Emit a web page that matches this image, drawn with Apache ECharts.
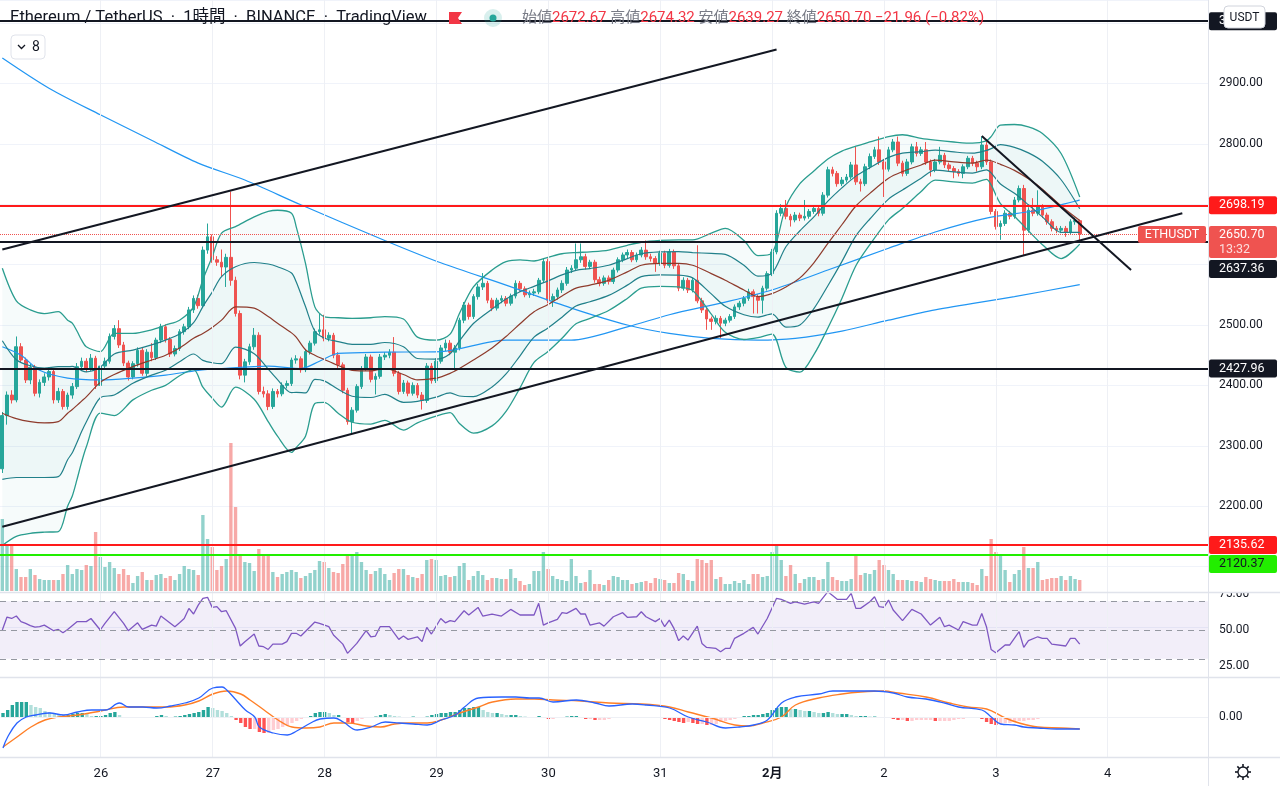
<!DOCTYPE html>
<html>
<head>
<meta charset="utf-8">
<script src="https://cdn.jsdelivr.net/npm/echarts/dist/echarts.min.js"></script>
<style>
  html, body { margin: 0; padding: 0; background: #fff; }
  #chart { width: 1280px; height: 786px; }
</style>
</head>
<body>
<div id="chart"></div>
<script>
// ETH/USDT 1h candles, Jan 25 03:00 .. Feb 3 18:00  [open, close, low, high]
const candles = [
  [2262,2350,2255,2356],[2350,2384,2335,2390],[2384,2376,2370,2392],[2376,2464,2372,2481],[2464,2442,2438,2470],
  [2442,2409,2404,2446],[2409,2430,2402,2436],[2430,2387,2382,2434],[2387,2405,2380,2410],[2405,2414,2399,2420],
  [2414,2423,2408,2430],[2423,2376,2370,2427],[2376,2390,2371,2396],[2390,2365,2360,2394],[2365,2384,2360,2388],
  [2384,2398,2378,2404],[2398,2431,2394,2437],[2431,2440,2425,2446],[2440,2428,2422,2445],[2428,2445,2424,2452],
  [2445,2400,2394,2449],[2400,2432,2396,2437],[2432,2440,2426,2446],[2440,2481,2436,2486],[2481,2494,2476,2500],
  [2494,2467,2462,2508],[2467,2437,2432,2472],[2437,2414,2408,2441],[2414,2436,2410,2440],[2436,2458,2431,2463],
  [2458,2420,2416,2462],[2420,2455,2415,2460],[2455,2446,2440,2470],[2446,2475,2442,2479],[2475,2497,2470,2502],
  [2497,2476,2471,2501],[2476,2452,2447,2480],[2452,2461,2448,2466],[2461,2489,2457,2493],[2489,2497,2484,2502],
  [2497,2525,2493,2530],[2525,2544,2520,2549],[2544,2532,2527,2550],[2532,2624,2528,2630],[2624,2646,2618,2668],
  [2646,2608,2603,2650],[2608,2604,2598,2614],[2604,2596,2580,2625],[2596,2612,2563,2618],[2612,2574,2565,2721],
  [2574,2519,2514,2580],[2519,2417,2410,2524],[2417,2439,2405,2444],[2439,2464,2434,2469],[2464,2483,2459,2495],
  [2483,2390,2385,2488],[2390,2386,2380,2398],[2386,2365,2359,2392],[2365,2390,2361,2395],[2390,2386,2380,2394],
  [2386,2400,2382,2405],[2400,2403,2395,2408],[2403,2442,2399,2446],[2442,2444,2436,2450],[2444,2426,2421,2448],
  [2426,2456,2422,2460],[2456,2470,2451,2474],[2470,2489,2466,2494],[2489,2492,2484,2519],[2492,2478,2473,2517],
  [2478,2483,2473,2488],[2483,2450,2445,2487],[2450,2434,2429,2455],[2434,2392,2387,2438],[2392,2340,2335,2396],
  [2340,2359,2320,2364],[2359,2398,2355,2402],[2398,2428,2394,2432],[2428,2447,2424,2452],[2447,2410,2405,2451],
  [2410,2415,2385,2420],[2415,2447,2411,2452],[2447,2450,2442,2455],[2450,2455,2445,2460],[2455,2420,2415,2480],
  [2420,2390,2385,2424],[2390,2404,2386,2409],[2404,2387,2382,2408],[2387,2400,2383,2405],[2400,2384,2379,2404],
  [2384,2375,2360,2389],[2375,2432,2371,2437],[2432,2408,2403,2437],[2408,2440,2404,2445],[2440,2462,2436,2467],
  [2462,2470,2457,2476],[2470,2455,2450,2475],[2455,2462,2425,2467],[2462,2508,2458,2512],[2508,2533,2503,2538],
  [2533,2514,2509,2537],[2514,2547,2510,2551],[2547,2563,2542,2568],[2563,2569,2558,2586],[2569,2541,2536,2573],
  [2541,2528,2523,2545],[2528,2541,2524,2545],[2541,2544,2536,2549],[2544,2536,2531,2548],[2536,2548,2532,2552],
  [2548,2569,2544,2574],[2569,2560,2555,2573],[2560,2550,2546,2564],[2550,2553,2545,2557],[2553,2555,2548,2560],
  [2555,2574,2551,2578],[2574,2605,2570,2610],[2605,2541,2536,2610],[2541,2547,2530,2552],[2547,2558,2542,2562],
  [2558,2569,2553,2574],[2569,2591,2565,2596],[2591,2594,2586,2599],[2594,2608,2590,2635],[2608,2613,2603,2635],
  [2613,2597,2592,2618],[2597,2604,2593,2608],[2604,2575,2570,2608],[2575,2569,2564,2580],[2569,2578,2565,2582],
  [2578,2572,2567,2582],[2572,2591,2568,2595],[2591,2608,2587,2612],[2608,2616,2604,2620],[2616,2620,2611,2625],
  [2620,2608,2604,2624],[2608,2616,2604,2620],[2616,2624,2612,2629],[2624,2613,2608,2640],[2613,2610,2605,2618],
  [2610,2602,2588,2614],[2602,2619,2598,2623],[2619,2599,2594,2623],[2599,2621,2595,2626],[2621,2598,2593,2625],
  [2598,2561,2556,2602],[2561,2574,2557,2579],[2574,2558,2553,2578],[2558,2574,2554,2578],[2574,2540,2536,2632],
  [2540,2525,2520,2545],[2525,2510,2492,2529],[2510,2506,2492,2514],[2506,2511,2501,2516],[2511,2503,2478,2515],
  [2503,2508,2498,2512],[2508,2514,2504,2518],[2514,2530,2510,2534],[2530,2536,2525,2540],[2536,2544,2531,2548],
  [2544,2555,2540,2560],[2555,2547,2519,2559],[2547,2541,2519,2551],[2541,2561,2519,2565],[2561,2585,2557,2589],
  [2585,2621,2581,2626],[2621,2685,2617,2690],[2685,2693,2680,2700],[2693,2680,2675,2707],[2680,2674,2663,2684],
  [2674,2682,2670,2687],[2682,2677,2672,2686],[2677,2680,2673,2707],[2680,2688,2676,2692],[2688,2693,2684,2698],
  [2693,2685,2680,2697],[2685,2715,2681,2720],[2715,2757,2711,2762],[2757,2751,2746,2762],[2751,2734,2729,2755],
  [2734,2740,2730,2745],[2740,2745,2736,2750],[2745,2765,2741,2770],[2765,2737,2732,2795],[2737,2734,2721,2742],
  [2734,2762,2730,2767],[2762,2779,2758,2784],[2779,2790,2775,2795],[2790,2770,2765,2812],[2770,2758,2712,2775],
  [2758,2790,2754,2795],[2790,2803,2786,2808],[2803,2768,2763,2812],[2768,2751,2746,2772],[2751,2770,2747,2775],
  [2770,2795,2766,2800],[2795,2784,2779,2803],[2784,2790,2780,2795],[2790,2770,2765,2803],[2770,2757,2746,2774],
  [2757,2770,2753,2775],[2770,2781,2766,2795],[2781,2765,2760,2785],[2765,2759,2754,2769],[2759,2754,2743,2763],
  [2754,2751,2746,2758],[2751,2762,2743,2766],[2762,2776,2758,2780],[2776,2768,2763,2780],[2768,2762,2754,2772],
  [2762,2798,2758,2812],[2798,2770,2765,2803],[2770,2688,2683,2774],[2688,2663,2658,2692],[2663,2668,2641,2673],
  [2668,2685,2664,2690],[2685,2680,2675,2689],[2680,2707,2676,2712],[2707,2726,2703,2731],[2726,2657,2616,2732],
  [2657,2690,2653,2695],[2690,2685,2680,2710],[2685,2696,2681,2723],[2696,2682,2677,2700],[2682,2671,2666,2686],
  [2671,2660,2655,2675],[2660,2657,2652,2664],[2657,2660,2652,2664],[2660,2654,2646,2664],[2654,2671,2650,2675],
  [2671,2673,2666,2678],[2672.67,2650.70,2639.27,2674.32]
];

const volumes = [
  72,47,47,22,14,14,22,16,12,11, 11,11,11,17,26,17,22,21,26,25,
  59,34,24,29,23,17,22,16,8,15, 19,11,11,16,17,13,15,11,17,25,
  22,21,16,76,52,44,21,25,32,148, 84,37,29,28,20,42,35,35,19,14,
  17,19,21,19,13,15,18,21,30,29, 23,19,18,27,37,36,39,29,21,17,
  20,23,17,11,18,22,22,16,14,13, 17,31,32,31,15,16,14,15,25,28,
  11,15,20,16,11,13,13,12,12,22, 13,10,6,7,20,20,39,22,15,12,
  11,10,32,15,8,9,21,7,7,6, 11,15,14,11,11,7,8,9,10,8,
  13,12,11,8,8,18,17,11,10,32, 31,28,31,12,14,7,7,10,8,11,
  7,17,17,14,15,39,47,31,15,26, 17,8,12,14,14,11,12,29,14,11,
  10,10,12,35,16,18,17,21,31,26, 21,17,11,11,11,10,10,9,14,12,
  11,10,10,10,12,9,9,9,8,6, 22,15,52,39,37,21,9,17,21,44,
  23,23,29,11,12,13,13,15,11,15, 12,11
];

// Bollinger bands (20, 2) read at these candle indices
const bandIdx = [0,3,6,9,12,14,15,16,17,18,21,24,28,32,35,38,41,43,45,47,50,54,57,59,62,63,65,67,69,72,75,79,82,86,89,93,96,98,101,105,108,111,114,117,120,123,126,130,134,137,141,145,148,152,155,159,162,165,168,171,174,177,180,183,186,190,193,197,200,204,208,211,212,214,217,220,223,227,231];
const bbMid = [2354,2345,2340,2338,2340,2354,2360,2367,2374,2381,2405,2418,2431,2442,2450,2462,2478,2486,2496,2508,2530,2528,2514,2503,2487,2480,2459,2450,2443,2433,2425,2424,2428,2418,2409,2412,2420,2428,2442,2462,2481,2502,2522,2534,2548,2561,2566,2574,2588,2599,2602,2602,2599,2585,2574,2558,2547,2552,2563,2578,2603,2635,2666,2697,2718,2743,2754,2765,2773,2770,2768,2773,2772,2766,2756,2742,2725,2697,2673];
const bbUpper = [2594,2540,2525,2519,2522,2508,2503,2490,2475,2464,2456,2486,2486,2492,2500,2508,2530,2575,2613,2652,2663,2679,2688,2690,2685,2663,2602,2530,2514,2512,2511,2512,2514,2510,2480,2475,2485,2519,2563,2591,2605,2608,2606,2612,2618,2620,2621,2624,2632,2637,2640,2641,2641,2652,2660,2640,2615,2619,2696,2734,2755,2775,2788,2796,2803,2812,2815,2809,2806,2803,2801,2805,2812,2831,2832,2828,2817,2784,2712];
const bbLower = [2135,2150,2155,2157,2158,2200,2217,2244,2273,2298,2354,2350,2376,2392,2400,2416,2426,2397,2379,2364,2397,2377,2340,2316,2289,2297,2316,2370,2372,2354,2339,2336,2342,2326,2338,2349,2355,2337,2321,2333,2357,2396,2438,2456,2478,2502,2511,2524,2544,2561,2564,2563,2557,2518,2488,2476,2479,2485,2430,2422,2451,2495,2544,2598,2633,2674,2693,2721,2740,2737,2735,2741,2732,2701,2680,2656,2633,2610,2634];

// moving averages [candle index, value]
const maSlow = [[0,2942],[10,2892],[21,2848],[32,2806],[42,2768],[52,2740],[64,2699],[82,2640],[94,2603],[108,2566],[122,2528],[134,2500],[143,2486],[152,2478],[162,2475],[170,2478],[180,2490],[190,2508],[200,2525],[217,2547],[231,2567]];
const maFast = [[0,2464],[4,2450],[8,2425],[14,2412],[21,2409],[28,2412],[35,2417],[42,2425],[47,2428],[57,2432],[64,2428],[68,2440],[72,2453],[82,2455],[94,2456],[108,2475],[122,2475],[134,2497],[143,2517],[155,2538],[165,2558],[177,2591],[190,2627],[200,2654],[211,2677],[222,2690],[231,2707]];

// RSI(14)
const rsi = [[0,50],[1,59],[2,58],[3,59.7],[4,55.8],[5,54.6],[6,53],[7,52],[8,52.3],[9,53.4],[11,49.5],[12,50.4],[13,48.1],[14,50.4],[16,55.8],[18,55.8],[19,58],[21,50],[22,54.6],[24,62.7],[26,54.6],[27,49.5],[29,55],[30,50.4],[32,53.4],[33,52.7],[34,59.7],[37,52.3],[38,55],[39,58],[40,65],[41,61.1],[42,67.3],[43,72],[44,72.7],[45,65.7],[46,66.2],[47,62.7],[48,63.4],[50,51.1],[51,38.9],[52,41.9],[54,47.2],[55,38.9],[56,38.4],[57,36.5],[58,40.2],[60,40.2],[61,41.9],[62,47.7],[63,47.7],[64,45.8],[66,52.3],[67,55.5],[68,54.6],[70,52.3],[71,46.5],[73,40.2],[74,33.8],[76,40.7],[78,49.5],[79,45.3],[80,45.8],[81,52.3],[83,52.3],[85,43.5],[86,45.8],[87,43.5],[89,45.3],[90,41.9],[91,51.8],[92,47.2],[94,58],[95,55],[96,56.5],[97,55.8],[99,63.4],[100,60.4],[102,65.7],[103,59.7],[105,61.1],[107,59.7],[109,64.3],[111,60.4],[114,60.4],[115,68.5],[116,53.4],[117,55],[119,57.4],[120,62],[121,61.5],[123,65],[124,61.1],[125,61.1],[126,53.4],[128,55],[129,52.7],[131,59.2],[133,62],[134,58.8],[136,59.2],[137,62.7],[138,59.2],[140,55.8],[141,58],[142,52.3],[143,56.9],[144,51.1],[145,42.6],[146,45.8],[147,43],[149,52.7],[150,40.7],[151,37.9],[153,37.2],[154,34.9],[155,37.2],[156,37.2],[157,44.2],[159,47.7],[161,51.8],[162,47.2],[164,58],[166,72],[167,71.3],[169,68.5],[170,69.6],[172,68],[174,69.6],[175,68.5],[177,76.6],[179,71.3],[181,71.3],[182,75.4],[183,65],[184,65],[186,69.6],[187,73.1],[188,66.2],[189,65.7],[190,70.8],[191,63.9],[193,56.5],[195,64.3],[197,61.1],[199,53.4],[201,58.8],[202,52.3],[203,53.4],[205,50],[206,55.8],[208,53.4],[209,53.4],[210,61.5],[211,52.3],[212,36.5],[213,34.2],[215,39.6],[216,39.6],[218,48.8],[219,37.9],[220,42.6],[222,45.3],[223,44.2],[224,44.2],[225,40.2],[228,38.9],[229,44.2],[230,44.2],[231,40.2]];

// MACD(12,26,9)
const macdLine = [[0,-31],[1,-20],[3,-6],[5,0],[7,2],[10,4],[13,2],[16,5],[19,7],[22,7],[25,14],[27,10],[30,10],[33,9],[36,11],[39,14],[42,19],[45,29],[47,30],[48,27],[50,17],[52,7],[54,0],[55,-10],[58,-16],[61,-18],[63,-14],[66,-6],[68,-2],[71,-1],[73,-5],[76,-13],[79,-10],[82,-5],[85,-6],[88,-7],[91,-8],[94,-3],[97,2],[99,10],[102,19],[107,20],[110,20],[113,19],[115,19],[118,15],[123,17],[127,14],[130,11],[135,13],[138,12],[143,9],[147,0],[151,-5],[155,-11],[158,-10],[161,-8],[164,-3],[167,14],[170,20],[175,23],[178,26],[183,26],[187,26],[191,24],[194,20],[198,18],[202,14],[205,10],[210,7],[212,0],[214,-7],[217,-8],[219,-10],[222,-11],[226,-12],[228,-12],[231,-12]];
const signalLine = [[0,-30],[3,-20],[6,-10],[9,-3],[12,0],[16,2],[21,6],[26,10],[30,10],[35,10],[39,12],[42,16],[45,23],[48,26],[51,23],[53,17],[56,7],[59,-3],[62,-10],[65,-11],[68,-10],[71,-6],[74,-6],[78,-9],[81,-10],[84,-7],[87,-6],[91,-6],[94,-3],[98,4],[102,10],[105,15],[110,18],[114,18],[118,17],[124,16],[130,14],[137,13],[143,10],[147,5],[152,-1],[157,-8],[160,-9],[163,-6],[167,0],[170,12],[175,19],[180,23],[184,25],[189,26],[192,24],[198,20],[203,14],[207,10],[211,8],[215,-1],[218,-6],[222,-10],[227,-11],[231,-12]];
const macdHist = [
  4,7,12,15,15,15,12,10,9,6, 5,4,3,2,2,3,4,4,3,1,
  1,1,2,4,5,2,0,-0.5,-1,-1, -1,-0.5,0,1,2,1,0,0.5,1,2,
  3,4,5,7,10,9,7,6,4,1, -3,-6,-10,-12,-12,-15,-16,-16,-13,-12,
  -10,-8,-6,-4,-2,-1,1,4,5,5, 4,2,2,0,-5,-6,-4,-2,-1,-0.5,
  0.5,2,3,2,1,0.5,-0.5,-1,0.5,-0.5, -1,0.5,2,3,4,4,5,5,7,9,
  9,10,10,7,5,4,4,3,2,2, 2,1,0.5,-0.5,-1,1,-1,-2,-2,-1,
  -1,0.5,1,1,-1,-2,-2,-3,-3,-3, -2,-1,-1,-1,-1,-0.5,-0.5,-1,-1,-1,
  -1,-1,-2,-3,-4,-5,-6,-5,-6,-7, -7,-8,-8,-7,-5,-4,-3,-2,-1,1,
  1,2,2,3,4,7,9,10,10,8, 8,7,6,6,5,4,4,5,4,3,
  3,3,2,1,1,1,0.5,0.5,-0.5,-1, -1,-2,-3,-3,-4,-4,-3,-3,-3,-3,
  -4,-4,-4,-4,-3,-2,-2,-1,-1,-1, -2,-5,-7,-8,-7,-6,-6,-5,-4,-4,
  -3,-3,-2,-1,-1,-1,-1,-1,-0.5,-0.5, -0.5,-0.5
];

// drawings
const trendLines = [[0,2625,166,2956],[0,2166,253,2685],[210,2813,242,2591]];
const levelPrices = [3003.05, 2698.19, 2637.36, 2427.96, 2135.62, 2120.37];
const levelKinds = ['black','red','black','black','red','green'];
const lastPrice = 2650.70;
const countdown = '13:32';

const dayTickIdx = [21,45,69,93,117,141,165,189,213,237];
const dayTickLabels = ['26','27','28','29','30','31','2月','2','3','4'];
const priceTicks = [2200,2300,2400,2500,2800,2900];
const rsiTicks = [25,50,75];

const headerTitle = 'Ethereum / TetherUS  ·  1時間  ·  BINANCE  ·  TradingView';
const ohlcLabels = ['始値','高値','安値','終値'];
const ohlcValues = ['2672.67','2674.32','2639.27','2650.70'];
const changeText = '−21.96 (−0.82%)';

// ---------------------------------------------------------------
const UP = '#26a69a', DOWN = '#ef5350';
const kindColor = { black: '#131722', red: '#ff1a1a', green: '#22ee00' };
const FONT = 'Roboto, "Noto Sans CJK JP", sans-serif';
const N = 259;
const cats = [];
for (let i = 0; i < N; i++) cats.push(String(i));

const pair = (idx, vals) => idx.map((x, k) => [x, vals[k]]);
const innerUp = bbMid.map((m, k) => m + (bbUpper[k] - m) / 2);
const innerLo = bbMid.map((m, k) => m - (m - bbLower[k]) / 2);

const volData = volumes.map((v, i) => ({
  value: v,
  itemStyle: { color: candles[i][1] >= candles[i][0] ? 'rgba(38,166,154,0.5)' : 'rgba(239,83,80,0.5)' }
}));
const histData = macdHist.map((v, i) => {
  const prev = i > 0 ? macdHist[i - 1] : 0;
  let c;
  if (v >= 0) c = v >= prev ? '#26a69a' : '#b2dfdb';
  else c = v < prev ? '#ff5252' : '#ffcdd2';
  return { value: v, itemStyle: { color: c } };
});

const noLabelAxis = (gi) => ({
  type: 'category', gridIndex: gi, data: cats, boundaryGap: true,
  axisLine: { show: false }, axisTick: { show: false }, axisLabel: { show: false }, splitLine: { show: false }
});

const lineS = (name, data, color, width, extra) => Object.assign({
  name, type: 'line', xAxisIndex: 0, yAxisIndex: 0, data, symbol: 'none',
  lineStyle: { color, width }, z: 4, silent: true
}, extra || {});

const markNone = { symbol: ['none', 'none'], silent: true, label: { show: false }, animation: false };

const option = {
  animation: false,
  backgroundColor: '#ffffff',
  textStyle: { fontFamily: FONT },
  grid: [
    { left: 0, right: 72, top: 0, height: 627 },       // price (2000 .. 3038)
    { left: 0, right: 72, top: 441, height: 150 },     // volume
    { left: 0, right: 72, top: 558, height: 144 },     // RSI
    { left: 0, right: 72, top: 677, height: 80 },      // MACD
    { left: 0, right: 72, top: 0, height: 757 }        // day grid lines
  ],
  xAxis: [
    noLabelAxis(0), noLabelAxis(1), noLabelAxis(2),
    {
      type: 'category', gridIndex: 3, data: cats, boundaryGap: true,
      axisLine: { show: false }, axisTick: { show: false }, splitLine: { show: false },
      axisLabel: {
        interval: 0, margin: 10, color: '#131722', fontSize: 13, fontFamily: FONT,
        formatter: (v, i) => {
          const k = dayTickIdx.indexOf(i);
          if (k < 0) return '';
          return dayTickLabels[k] === '2月' ? '{b|2月}' : dayTickLabels[k];
        },
        rich: { b: { fontWeight: 'bold', fontSize: 13, color: '#131722', fontFamily: FONT } }
      }
    },
    noLabelAxis(4)
  ],
  yAxis: [
    {
      type: 'value', gridIndex: 0, position: 'right', min: 2000, max: 3038.1, interval: 100,
      axisLine: { show: false }, axisTick: { show: false },
      splitLine: { lineStyle: { color: '#f0f3fa', width: 1 } },
      axisLabel: {
        margin: 11, color: '#131722', fontSize: 12, fontFamily: FONT, showMaxLabel: false,
        formatter: v => priceTicks.indexOf(v) >= 0 ? v.toFixed(2) : ''
      }
    },
    { type: 'value', gridIndex: 1, min: 0, max: 150, show: false },
    {
      type: 'value', gridIndex: 2, position: 'right', min: 0, max: 100, interval: 25,
      axisLine: { show: false }, axisTick: { show: false }, splitLine: { show: false },
      axisLabel: {
        margin: 11, color: '#131722', fontSize: 12, fontFamily: FONT,
        formatter: v => rsiTicks.indexOf(v) >= 0 ? v.toFixed(2) : ''
      }
    },
    {
      type: 'value', gridIndex: 3, position: 'right', min: -40, max: 40, interval: 40,
      axisLine: { show: false }, axisTick: { show: false }, splitLine: { show: false },
      axisLabel: {
        margin: 11, color: '#131722', fontSize: 12, fontFamily: FONT,
        formatter: v => v === 0 ? '0.00' : ''
      }
    },
    { type: 'value', gridIndex: 4, min: 0, max: 1, show: false }
  ],
  series: [
    // vertical day lines
    {
      type: 'line', xAxisIndex: 4, yAxisIndex: 4, data: [], z: 0, silent: true,
      markLine: Object.assign({}, markNone, {
        lineStyle: { color: '#eef0f5', width: 1, type: 'solid' },
        data: dayTickIdx.map(i => ({ xAxis: i }))
      })
    },
    // band fills
    lineS('bbBase', pair(bandIdx, bbLower), 'transparent', 0, { stack: 'outer', smooth: 0.3, z: 1, lineStyle: { opacity: 0 } }),
    lineS('bbFill', pair(bandIdx, bbUpper.map((u, k) => u - bbLower[k])), 'transparent', 0,
      { stack: 'outer', smooth: 0.3, z: 1, lineStyle: { opacity: 0 }, areaStyle: { color: 'rgba(38,166,154,0.06)', origin: 'start' } }),
    lineS('bbInBase', pair(bandIdx, innerLo), 'transparent', 0, { stack: 'inner', smooth: 0.3, z: 1, lineStyle: { opacity: 0 } }),
    lineS('bbInFill', pair(bandIdx, innerUp.map((u, k) => u - innerLo[k])), 'transparent', 0,
      { stack: 'inner', smooth: 0.3, z: 1, lineStyle: { opacity: 0 }, areaStyle: { color: 'rgba(38,166,154,0.06)', origin: 'start' } }),
    // candles
    {
      type: 'candlestick', xAxisIndex: 0, yAxisIndex: 0, data: candles, barWidth: 3.2, z: 3, silent: true,
      itemStyle: { color: UP, color0: DOWN, borderColor: UP, borderColor0: DOWN, borderWidth: 1 }
    },
    // indicator lines
    lineS('maSlow', maSlow, '#2196f3', 1.2, { smooth: 0.3 }),
    lineS('maFast', maFast, '#2196f3', 1.2, { smooth: 0.3 }),
    lineS('bbUpper', pair(bandIdx, bbUpper), '#2a9d8f', 1.3, { smooth: 0.3 }),
    lineS('bbLower', pair(bandIdx, bbLower), '#2a9d8f', 1.3, { smooth: 0.3 }),
    lineS('bbInUp', pair(bandIdx, innerUp), '#21808a', 1.2, { smooth: 0.3 }),
    lineS('bbInLo', pair(bandIdx, innerLo), '#21808a', 1.2, { smooth: 0.3 }),
    lineS('bbMid', pair(bandIdx, bbMid), '#8e3b2c', 1.2, { smooth: 0.3 }),
    // drawings
    {
      type: 'line', xAxisIndex: 0, yAxisIndex: 0, data: [], z: 6, silent: true,
      markLine: Object.assign({}, markNone, {
        data: levelPrices.map((p, k) => ({
          yAxis: p, lineStyle: { color: kindColor[levelKinds[k]], width: 2, type: 'solid' }
        })).concat([{ yAxis: lastPrice, lineStyle: { color: '#ef5350', width: 1, type: 'dotted' } }])
          .concat(trendLines.map(t => [
            { coord: [t[0], t[1]], lineStyle: { color: '#131722', width: 2, type: 'solid' } },
            { coord: [t[2], t[3]] }
          ]))
      })
    },
    // volume
    { type: 'bar', xAxisIndex: 1, yAxisIndex: 1, data: volData, barWidth: '72%', z: 2, silent: true },
    // RSI
    {
      type: 'line', xAxisIndex: 2, yAxisIndex: 2, data: rsi, symbol: 'none', silent: true, z: 4,
      lineStyle: { color: '#7e57c2', width: 1.3 },
      markArea: { silent: true, itemStyle: { color: 'rgba(126,87,194,0.1)' }, data: [[{ yAxis: 30 }, { yAxis: 70 }]] },
      markLine: Object.assign({}, markNone, {
        lineStyle: { color: '#9598a1', width: 1, type: [6, 5] },
        data: [{ yAxis: 70 }, { yAxis: 50 }, { yAxis: 30 }]
      })
    },
    // MACD
    {
      type: 'bar', xAxisIndex: 3, yAxisIndex: 3, data: histData, barWidth: '72%', silent: true, z: 2,
      markLine: Object.assign({}, markNone, { lineStyle: { color: '#eef0f5', width: 1, type: 'solid' }, data: [{ yAxis: 0 }] })
    },
    { type: 'line', xAxisIndex: 3, yAxisIndex: 3, data: signalLine, symbol: 'none', smooth: 0.4, silent: true, z: 4,
      lineStyle: { color: '#ff7f27', width: 1.4 } },
    { type: 'line', xAxisIndex: 3, yAxisIndex: 3, data: macdLine, symbol: 'none', smooth: 0.4, silent: true, z: 5,
      lineStyle: { color: '#2962ff', width: 1.3 } }
  ]
};

const chart = echarts.init(document.getElementById('chart'));
chart.setOption(option);

// ---------------- overlays: price tags, header, separators ----------------
const py = v => chart.convertToPixel({ yAxisIndex: 0 }, v);
const g = [];
const tag = (top, h, bg, lines, fg) => {
  g.push({ type: 'rect', shape: { x: 1209, y: top, width: 68, height: h, r: 2 }, style: { fill: bg }, z: 50 });
  lines.forEach((t, k) => g.push({
    type: 'text', x: 1219, y: top + 9 + k * 15, z: 51,
    style: { text: t, fill: k === 0 ? fg : 'rgba(255,255,255,0.8)', font: '12.5px ' + FONT, textVerticalAlign: 'middle' }
  }));
};

// pane separators
g.push({ type: 'line', shape: { x1: 0, y1: 592.5, x2: 1280, y2: 592.5 }, style: { stroke: '#e0e3eb', lineWidth: 1.5 }, z: 40 });
g.push({ type: 'line', shape: { x1: 0, y1: 677.5, x2: 1280, y2: 677.5 }, style: { stroke: '#e0e3eb', lineWidth: 1.5 }, z: 40 });
g.push({ type: 'line', shape: { x1: 0, y1: 757.5, x2: 1280, y2: 757.5 }, style: { stroke: '#e0e3eb', lineWidth: 1.5 }, z: 40 });
g.push({ type: 'line', shape: { x1: 1208.5, y1: 0, x2: 1208.5, y2: 786 }, style: { stroke: '#e0e3eb', lineWidth: 1 }, z: 40 });
g.push({ type: 'rect', shape: { x: 1210, y: 580, width: 70, height: 12 }, style: { fill: '#ffffff' }, z: 39 });

// price tags
tag(py(levelPrices[0]) - 9, 18, kindColor.black, [levelPrices[0].toFixed(2)], '#ffffff');
tag(py(levelPrices[1]) - 9, 18, kindColor.red, [levelPrices[1].toFixed(2)], '#ffffff');
const yLast = py(lastPrice);
tag(yLast - 8, 32, '#ef5350', [lastPrice.toFixed(2), countdown], '#ffffff');
tag(yLast + 26, 18, kindColor.black, [levelPrices[2].toFixed(2)], '#ffffff');
tag(py(levelPrices[3]) - 9, 18, kindColor.black, [levelPrices[3].toFixed(2)], '#ffffff');
const yR2 = py(levelPrices[4]);
tag(yR2 - 9, 18, kindColor.red, [levelPrices[4].toFixed(2)], '#ffffff');
tag(yR2 + 10, 18, kindColor.green, [levelPrices[5].toFixed(2)], '#131722');
// symbol tag
g.push({ type: 'rect', shape: { x: 1138, y: yLast - 8, width: 68, height: 17, r: 2 }, style: { fill: '#ef5350' }, z: 50 });
g.push({ type: 'text', x: 1172, y: yLast + 0.5, z: 51,
  style: { text: 'ETHUSDT', fill: '#ffffff', font: '12.5px ' + FONT, textAlign: 'center', textVerticalAlign: 'middle' } });

// USDT box
g.push({ type: 'rect', shape: { x: 1224, y: 6, width: 41, height: 22, r: 4 }, style: { fill: '#ffffff', stroke: '#d1d4dc', lineWidth: 1 }, z: 60 });
g.push({ type: 'text', x: 1244.5, y: 17.5, z: 61,
  style: { text: 'USDT', fill: '#131722', font: '12px ' + FONT, textAlign: 'center', textVerticalAlign: 'middle' } });

// header
g.push({ type: 'text', x: 10, y: 18, z: 60,
  style: { text: headerTitle, fill: '#131722', font: '16.5px ' + FONT, textVerticalAlign: 'middle' } });
g.push({ type: 'polygon', shape: { points: [[449, 12], [462, 12], [458, 18], [462, 24], [449, 24]] }, style: { fill: '#f23645' }, z: 60 });
g.push({ type: 'circle', shape: { cx: 493, cy: 18, r: 9 }, style: { fill: 'rgba(38,166,154,0.18)' }, z: 60 });
g.push({ type: 'circle', shape: { cx: 493, cy: 18, r: 3.5 }, style: { fill: '#26a69a' }, z: 61 });
let rt = '';
ohlcLabels.forEach((l, k) => { rt += '{l|' + l + '}{v|' + ohlcValues[k] + '} '; });
rt += '{v|' + changeText + '}';
g.push({ type: 'text', x: 522, y: 18, z: 60,
  style: {
    text: rt, textVerticalAlign: 'middle', font: '15px ' + FONT,
    rich: { l: { fill: '#787b86', font: '15px ' + FONT }, v: { fill: '#f23645', font: '15px ' + FONT } }
  } });

// interval button
g.push({ type: 'rect', shape: { x: 11, y: 35, width: 34, height: 24, r: 4 }, style: { fill: '#ffffff', stroke: '#e0e3eb', lineWidth: 1 }, z: 60 });
g.push({ type: 'polyline', shape: { points: [[18, 45], [21.5, 48.5], [25, 45]] }, style: { stroke: '#131722', lineWidth: 1.3, fill: null }, z: 61 });
g.push({ type: 'text', x: 32, y: 47, z: 61, style: { text: '8', fill: '#131722', font: '14px ' + FONT, textVerticalAlign: 'middle' } });

// settings gear
g.push({ type: 'circle', shape: { cx: 1243, cy: 772, r: 5 }, style: { fill: null, stroke: '#131722', lineWidth: 1.3 }, z: 60 });
for (let k = 0; k < 8; k++) {
  const a = k * Math.PI / 4;
  g.push({ type: 'line', shape: { x1: 1243 + 5 * Math.cos(a), y1: 772 + 5 * Math.sin(a), x2: 1243 + 8 * Math.cos(a), y2: 772 + 8 * Math.sin(a) },
    style: { stroke: '#131722', lineWidth: 1.6 }, z: 60 });
}

chart.setOption({ graphic: g });
</script>
</body>
</html>
